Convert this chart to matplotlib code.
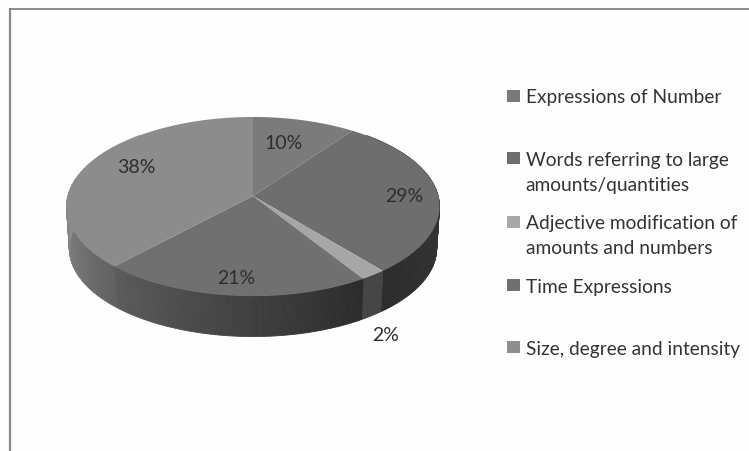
import matplotlib
matplotlib.use('Agg')
import matplotlib.pyplot as plt
import numpy as np

categories = ['Expressions of Number', 'Words referring to large\namounts/quantities',
              'Adjective modification of\namounts and numbers', 'Time Expressions',
              'Size, degree and intensity']
values = [10, 29, 2, 21, 38]
pct_labels = ['10%', '29%', '2%', '21%', '38%']
top_colors = ['#7b7b7b', '#6e6e6e', '#a6a6a6', '#707070', '#8c8c8c']
legend_colors = ['#7a7a7a', '#6e6e6e', '#a8a8a8', '#707070', '#8e8e8e']
# grey level of the side wall at the start and end of each slice
side_start = [0.24, 0.26, 0.27, 0.17, 0.38]
side_end = [0.26, 0.17, 0.27, 0.36, 0.85]

CX, CY = 253, 197
RX, RY = 185.2, 88.3
PERSP = 0.1175
DEPTH = 42

label_pos = [(284, 143.5), (404, 196.5), (386, 335.5), (236, 278.5), (136, 167.5)]
legend_y = [97, 159, 223, 286, 348]
text_y = [[98], [161, 186], [224, 249], [288], [350]]


def project(theta, dy=0.0, scale=1.0):
    # clockwise from 12 o'clock, far edge is squeezed a bit like the 3D pie
    u, v = np.sin(theta), np.cos(theta)
    w = 1 + PERSP * v
    return CX + scale * RX * u / w, CY + dy - scale * RY * v / w


def main():
    plt.rcParams['font.family'] = ['Lato', 'DejaVu Sans']
    fig = plt.figure(figsize=(7.49, 4.52), dpi=100, facecolor='#fefefe')
    ax = fig.add_axes([0, 0, 1, 1])
    ax.set_xlim(0, 749)
    ax.set_ylim(452, 0)
    ax.axis('off')

    # chart frame, open at the right and bottom
    ax.plot([9.5, 9.5], [452, 9.5], color='#8a8a8a', lw=1.6)
    ax.plot([9.5, 749], [9.5, 9.5], color='#7a7a7a', lw=1.2)

    edges = np.cumsum([0] + values) / sum(values) * 2 * np.pi

    # side wall, thin strips so the shading can change along the rim
    for i in range(len(values)):
        a0, a1 = edges[i], edges[i + 1]
        n = max(int((a1 - a0) / 0.02), 2)
        t = np.linspace(a0, a1, n + 1)
        for j in range(n):
            mid = (t[j] + t[j + 1]) / 2
            if np.cos(mid) > 0.75:
                continue
            g = side_start[i] + (side_end[i] - side_start[i]) * j / n
            tt = np.array([t[j], t[j + 1]])
            x1, y1 = project(tt)
            x2, y2 = project(tt[::-1], DEPTH, 0.985)
            ax.fill(np.r_[x1, x2], np.r_[y1, y2], facecolor=str(g), edgecolor=str(g), lw=0.6)

    # top face
    for i in range(len(values)):
        t = np.linspace(edges[i], edges[i + 1], 120)
        x, y = project(t)
        ax.fill(np.r_[CX, x], np.r_[CY, y], color=top_colors[i], lw=0)

    for lab, (x, y) in zip(pct_labels, label_pos):
        ax.text(x, y, lab, fontsize=14, color='#2e2e2e', ha='center', va='center')

    for cat, col, sy, ys in zip(categories, legend_colors, legend_y, text_y):
        ax.fill([507, 520, 520, 507], [sy - 6, sy - 6, sy + 6, sy + 6], color=col, lw=0)
        for line, y in zip(cat.split('\n'), ys):
            ax.text(525.5, y, line, fontsize=13.8, color='#333333', ha='left', va='center')

    fig.savefig('out.png', dpi=100, facecolor=fig.get_facecolor())


if __name__ == '__main__':
    main()
